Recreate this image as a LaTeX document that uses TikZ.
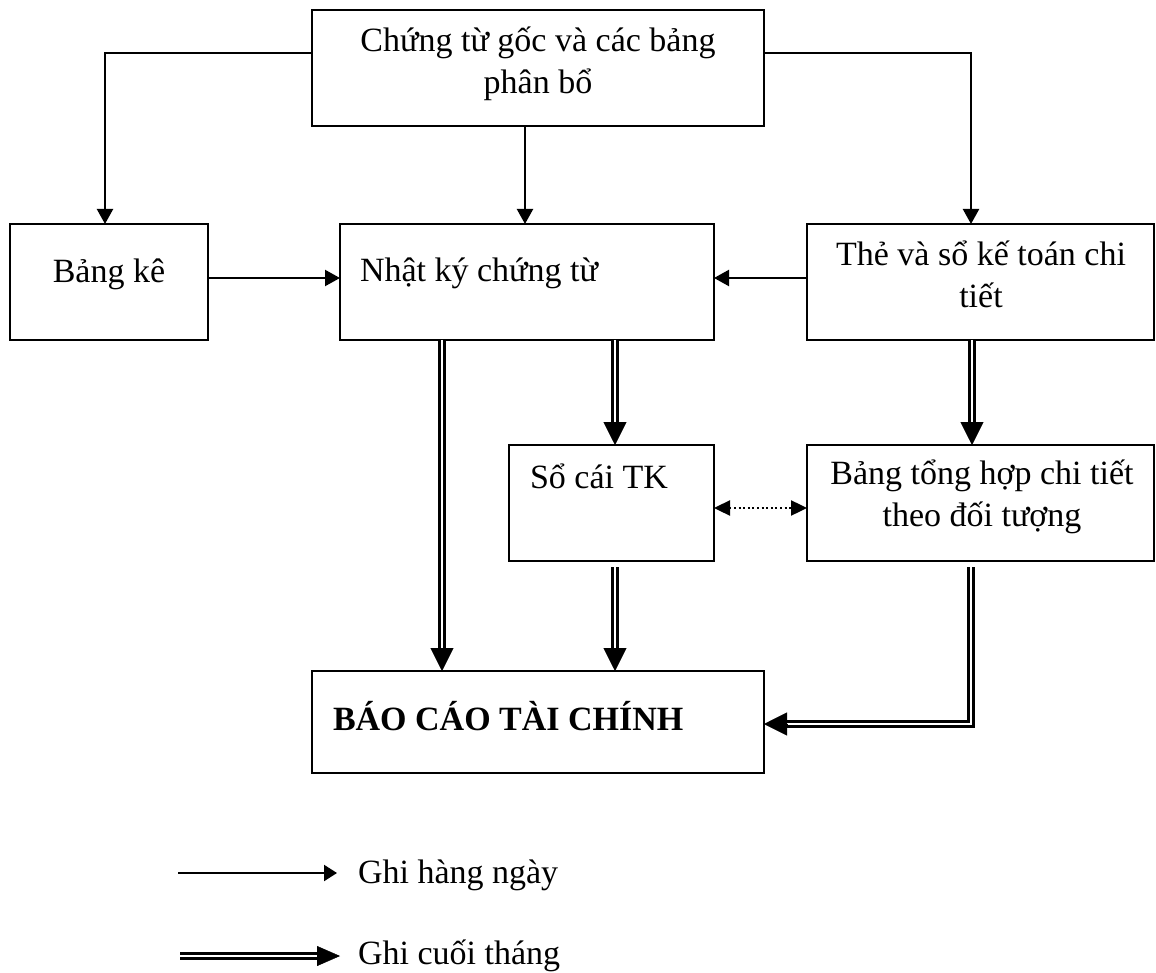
\documentclass[tikz,border=0pt]{standalone}
\usepackage{fontspec}
\setmainfont{Liberation Serif}
\usetikzlibrary{arrows.meta,calc}

\begin{document}
\begin{tikzpicture}[x=1pt,y=-1pt,
  box/.style={draw, line width=2.2pt, inner sep=0pt, outer sep=0pt, anchor=north west},
  txt/.style={font=\fontsize{34pt}{42pt}\selectfont, inner sep=0pt, outer sep=0pt},
  arr/.style={line width=2.2pt, -{Triangle[length=15pt,width=16pt]}},
  dotarr/.style={line width=2.4pt, dash pattern=on 2pt off 2.6pt,
    {Triangle[length=16pt,width=15pt]}-{Triangle[length=16pt,width=15pt]}},
  dbl/.style={double, line width=2.6pt, double distance=2.6pt},
  bigtip/.style={line width=0.4pt, -{Triangle[length=23pt,width=23pt]}},
  legtip/.style={line width=0.4pt, -{Triangle[length=23pt,width=20pt]}}
]
\useasboundingbox (0,0) rectangle (1156,973);

% boxes
\node[box, minimum width=452pt, minimum height=116pt] (top) at (312,10) {};
\node[box, minimum width=198pt, minimum height=116pt] (bk)  at (10,224) {};
\node[box, minimum width=374pt, minimum height=116pt] (nk)  at (340,224) {};
\node[box, minimum width=347pt, minimum height=116pt] (the) at (807,224) {};
\node[box, minimum width=205pt, minimum height=116pt] (sc)  at (509,445) {};
\node[box, minimum width=347pt, minimum height=116pt] (bth) at (807,445) {};
\node[box, minimum width=452pt, minimum height=102pt] (bc)  at (312,671) {};

% box texts
\node[txt, align=center] (ttop) at (538,64) {Chứng từ gốc và các bảng\\phân bổ};
\node[txt, anchor=base] (tbk) at (109,283) {Bảng kê};
\node[txt, anchor=base west] (tnk) at (360,282) {Nhật ký chứng từ};
\node[txt, align=center] (tthe) at (981,274) {Thẻ và sổ kế toán chi\\tiết};
\node[txt, align=center] (tbth) at (982,497) {Bảng tổng hợp chi tiết\\theo đối tượng};
\node[txt, anchor=base west] (tsc) at (530,488) {Sổ cái TK};
\node[txt, anchor=base west, font=\fontsize{34pt}{42pt}\selectfont\bfseries] (tbc) at (333,730) {BÁO CÁO TÀI CHÍNH};

% guide coordinates
\coordinate (ytop) at (0,53);
\coordinate (xl) at (105,0);
\coordinate (xr) at (971,0);
\coordinate (xm) at (525,0);
\coordinate (yrow) at (278,278);
\coordinate (ydot) at (0,508);
\coordinate (xa) at (442,0);
\coordinate (xb) at (615,0);
\coordinate (xc) at (972,0);
\coordinate (ybc) at (0,724);

% daily postings
\draw[arr] (top.west |- ytop) -| (bk.north -| xl);
\draw[arr] (top.east |- ytop) -| (the.north -| xr);
\draw[arr] (top.south -| xm) -- (nk.north -| xm);
\draw[arr] (bk.east |- yrow) -- (nk.west |- yrow);
\draw[arr] (the.west |- yrow) -- (nk.east |- yrow);
\draw[dotarr] (sc.east |- ydot) -- (bth.west |- ydot);

% month-end postings
\draw[dbl] (nk.south -| xa) -- ($(bc.north -| xa)+(0,-20)$);
\draw[bigtip] ($(bc.north -| xa)+(0,-23)$) -- (bc.north -| xa);

\draw[dbl] (nk.south -| xb) -- ($(sc.north -| xb)+(0,-20)$);
\draw[bigtip] ($(sc.north -| xb)+(0,-23)$) -- (sc.north -| xb);

\draw[dbl] ($(sc.south -| xb)+(0,6)$) -- ($(bc.north -| xb)+(0,-20)$);
\draw[bigtip] ($(bc.north -| xb)+(0,-23)$) -- (bc.north -| xb);

\draw[dbl] (the.south -| xc) -- ($(bth.north -| xc)+(0,-20)$);
\draw[bigtip] ($(bth.north -| xc)+(0,-23)$) -- (bth.north -| xc);

\draw[dbl] ($(bth.south -| xr)+(0,6)$) |- ($(bc.east |- ybc)+(20,0)$);
\draw[bigtip] ($(bc.east |- ybc)+(23,0)$) -- (bc.east |- ybc);

% legend
\coordinate (l1a) at (178,873);
\coordinate (l1b) at (337,873);
\coordinate (l2a) at (180,956);
\coordinate (l2b) at (340,956);
\draw[line width=2.2pt, -{Triangle[length=13pt,width=16pt]}] (l1a) -- (l1b);
\draw[dbl] (l2a) -- ($(l2b)+(-20,0)$);
\draw[legtip] ($(l2b)+(-23,0)$) -- (l2b);
\node[txt, anchor=base west] (g1) at (358,883) {Ghi hàng ngày};
\node[txt, anchor=base west] (g2) at (358,964) {Ghi cuối tháng};
\end{tikzpicture}
\end{document}
